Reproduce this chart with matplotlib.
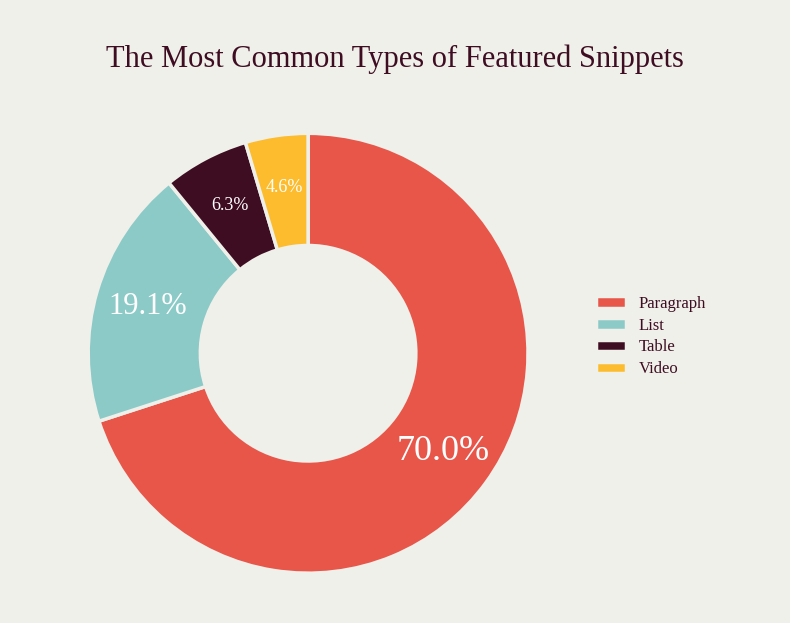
import matplotlib.pyplot as plt

labels = ['Paragraph', 'List', 'Table', 'Video']
values = [70.0, 19.1, 6.3, 4.6]
colors = ['#e85549', '#8ccac8', '#3e0d22', '#fdbc2e']
label_sizes = [26, 22, 13, 13]

bg = '#f0f0eb'
plt.rcParams['font.family'] = ['Liberation Serif', 'DejaVu Serif']

fig = plt.figure(figsize=(7.9, 6.23), dpi=100, facecolor=bg)
ax = fig.add_axes([0.39 - 0.2785, 0.433 - 0.353, 0.557, 0.706])
ax.set_facecolor(bg)

wedges, texts, autotexts = ax.pie(
    values, colors=colors, startangle=90, counterclock=False,
    autopct='%.1f%%', pctdistance=0.76, radius=1.0,
    wedgeprops=dict(width=0.51, edgecolor=bg, linewidth=2.5))
for t, s in zip(autotexts, label_sizes):
    t.set_color('white')
    t.set_fontsize(s)
ax.set_xlim(-1, 1)
ax.set_ylim(-1, 1)
ax.set_aspect('equal')

fig.text(0.5, 0.905, 'The Most Common Types of Featured Snippets',
         ha='center', va='center', fontsize=22, color='#3e0d22')

fig.legend(wedges, labels, loc='center left', bbox_to_anchor=(0.735, 0.46),
           frameon=False, fontsize=12, handlelength=1.8, handleheight=0.7,
           labelspacing=0.35, labelcolor='#3e0d22')

fig.savefig('out.png', dpi=100, facecolor=bg)
